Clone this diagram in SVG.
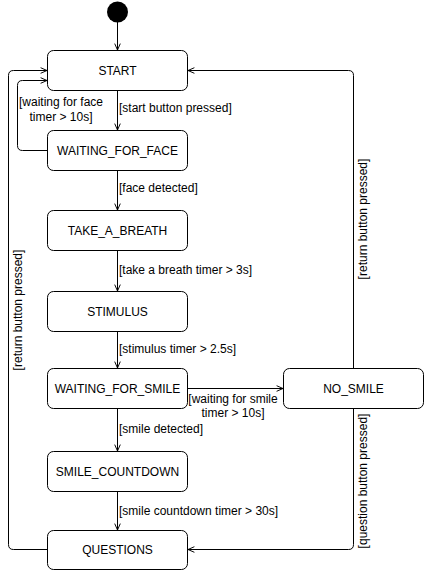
<svg xmlns="http://www.w3.org/2000/svg" width="424" height="571" viewBox="0 0 424 571">
<style>
.node rect{fill:#fff;stroke:#000;stroke-width:1}
.node text{font-family:"Liberation Sans",Arial,sans-serif;font-size:12px;fill:#000;text-anchor:middle}
.edge{fill:none;stroke:#000;stroke-width:1;marker-end:url(#arr)}
.lbl{font-family:"Liberation Sans",Arial,sans-serif;font-size:12px;fill:#000}
.mid{text-anchor:middle}
</style>
<defs>
<marker id="arr" viewBox="0 0 10 10" refX="9" refY="5" markerWidth="8" markerHeight="8" markerUnits="userSpaceOnUse" orient="auto">
<path d="M1,1.5 L9,5 L1,8.5 M9,5 L3,5" fill="none" stroke="#000" stroke-width="1.2"/>
</marker>
</defs>
<rect width="424" height="571" fill="#fff"/>
<g id="initial"><circle cx="117.5" cy="12" r="10.5" fill="#000"/></g>
<g id="START" class="node"><rect x="47.5" y="50.5" width="140" height="40" rx="6"/><text x="117.5" y="74.5">START</text></g>
<g id="WAITING_FOR_FACE" class="node"><rect x="47.5" y="130.5" width="140" height="40" rx="6"/><text x="117.5" y="154.5">WAITING_FOR_FACE</text></g>
<g id="TAKE_A_BREATH" class="node"><rect x="47.5" y="210.5" width="140" height="40" rx="6"/><text x="117.5" y="234.5">TAKE_A_BREATH</text></g>
<g id="STIMULUS" class="node"><rect x="47.5" y="291.5" width="140" height="40" rx="6"/><text x="117.5" y="315.5">STIMULUS</text></g>
<g id="WAITING_FOR_SMILE" class="node"><rect x="47.5" y="368.5" width="140" height="40" rx="6"/><text x="117.5" y="392.5">WAITING_FOR_SMILE</text></g>
<g id="NO_SMILE" class="node"><rect x="283.5" y="368.5" width="140" height="40" rx="6"/><text x="353.5" y="392.5">NO_SMILE</text></g>
<g id="SMILE_COUNTDOWN" class="node"><rect x="47.5" y="451.5" width="140" height="40" rx="6"/><text x="117.5" y="475.5">SMILE_COUNTDOWN</text></g>
<g id="QUESTIONS" class="node"><rect x="47.5" y="530.5" width="140" height="39" rx="6"/><text x="117.5" y="554">QUESTIONS</text></g>
<g id="connectors">
<path class="edge" d="M117.5,22 L117.5,50"/>
<path class="edge" d="M117.5,90.5 L117.5,130"/>
<path class="edge" d="M47.5,150.5 L22.5,150.5 Q17.5,150.5 17.5,145.5 L17.5,85.5 Q17.5,80.5 22.5,80.5 L47,80.5"/>
<path class="edge" d="M117.5,170.5 L117.5,210"/>
<path class="edge" d="M117.5,250.5 L117.5,291"/>
<path class="edge" d="M117.5,331.5 L117.5,368"/>
<path class="edge" d="M187.5,388.5 L283,388.5"/>
<path class="edge" d="M117.5,408.5 L117.5,451"/>
<path class="edge" d="M117.5,491.5 L117.5,530"/>
<path class="edge" d="M47.5,549.5 L13.5,549.5 Q8.5,549.5 8.5,544.5 L8.5,75.5 Q8.5,70.5 13.5,70.5 L47,70.5"/>
<path class="edge" d="M353.5,368.5 L353.5,75.5 Q353.5,70.5 348.5,70.5 L188,70.5"/>
<path class="edge" d="M353.5,408.5 L353.5,544.5 Q353.5,549.5 348.5,549.5 L188,549.5"/>
<text class="lbl" x="119" y="112">[start button pressed]</text>
<text class="lbl mid" x="61" y="106">[waiting for face</text>
<text class="lbl mid" x="61" y="121">timer &gt; 10s]</text>
<text class="lbl" x="119" y="192">[face detected]</text>
<text class="lbl" x="119" y="274">[take a breath timer &gt; 3s]</text>
<text class="lbl" x="119" y="353">[stimulus timer &gt; 2.5s]</text>
<text class="lbl mid" x="233" y="403">[waiting for smile</text>
<text class="lbl mid" x="233" y="417">timer &gt; 10s]</text>
<text class="lbl" x="119" y="433">[smile detected]</text>
<text class="lbl" x="119" y="515">[smile countdown timer &gt; 30s]</text>
<text class="lbl mid" transform="translate(22,310) rotate(-90)">[return button pressed]</text>
<text class="lbl mid" transform="translate(367,219) rotate(-90)">[return button pressed]</text>
<text class="lbl mid" transform="translate(367,481) rotate(-90)">[question button pressed]</text>
</g>
</svg>
